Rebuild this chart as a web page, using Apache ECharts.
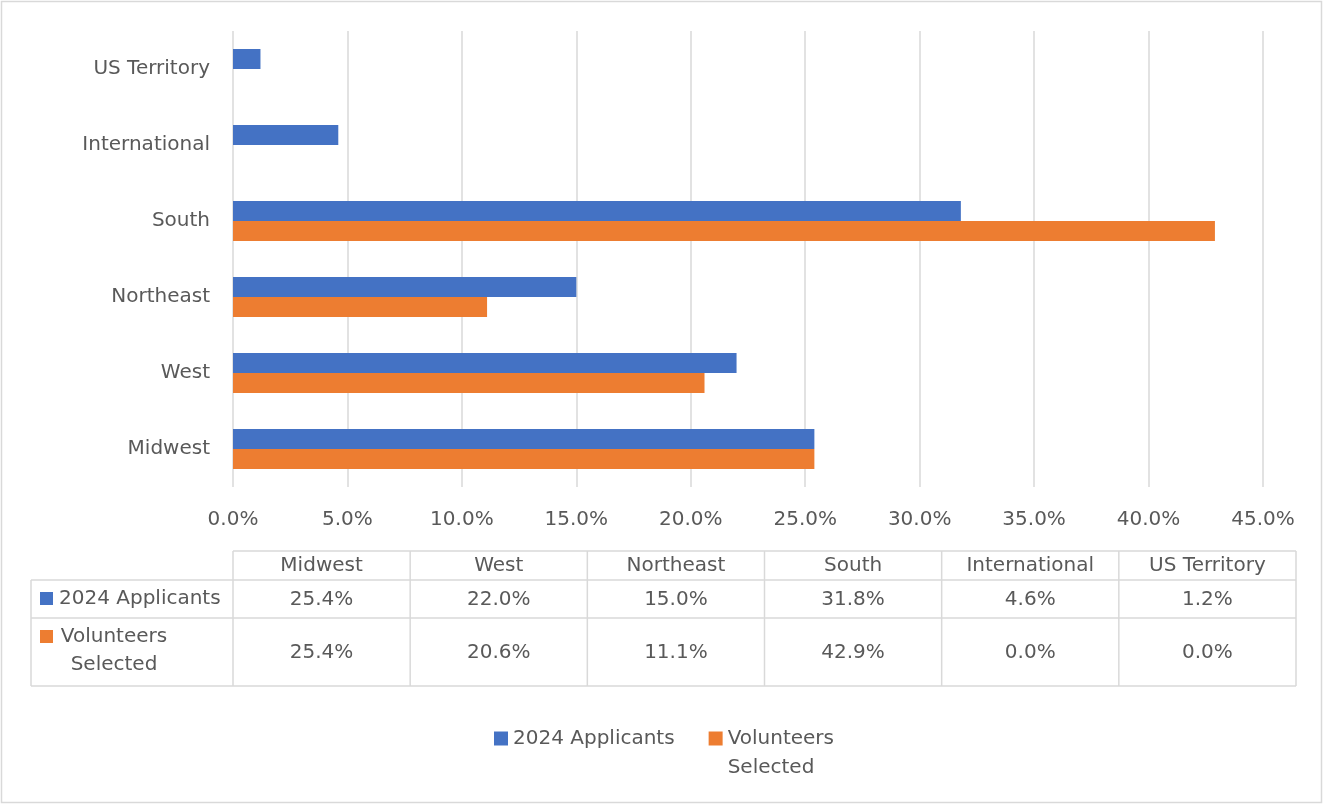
<!DOCTYPE html>
<html>
<head>
<meta charset="utf-8">
<title>Applicants vs Volunteers by Region</title>
<script src="https://cdn.jsdelivr.net/npm/echarts@6/dist/echarts.min.js"></script>
<style>
  html, body { margin: 0; padding: 0; background: #fff; }
  #chart { width: 1324px; height: 805px; }
</style>
</head>
<body>
<div id="chart"></div>
<script>
// data
var regions = ["Midwest", "West", "Northeast", "South", "International", "US Territory"];
var applicants = [25.4, 22.0, 15.0, 31.8, 4.6, 1.2];
var volunteers = [25.4, 20.6, 11.1, 42.9, 0.0, 0.0];
var seriesNames = ["2024 Applicants", "Volunteers Selected"];
var seriesLabels = ["2024 Applicants", "Volunteers\nSelected"];
var colors = ["#4472C4", "#ED7D31"];

var textColor = "#595959";
var lineColor = "#D9D9D9";
var font = "DejaVu Sans";

var chart = echarts.init(document.getElementById("chart"));

// data table under the plot
var tLeft = 31, tCol0 = 233, tRight = 1296;
var rowY = [551, 580, 618, 686];
var colW = (tRight - tCol0) / regions.length;

function fmt(v) {
  return v.toFixed(1) + "%";
}

function buildTable() {
  var els = [];
  var line = function (x1, y1, x2, y2) {
    els.push({
      type: "line",
      shape: { x1: x1, y1: y1, x2: x2, y2: y2 },
      style: { stroke: lineColor, lineWidth: 1.5 }
    });
  };
  var txt = function (x, y, s, align) {
    els.push({
      type: "text",
      x: x,
      y: y,
      style: {
        text: s,
        fill: textColor,
        font: "20px '" + font + "'",
        align: align || "center",
        verticalAlign: "middle",
        lineHeight: 28
      }
    });
  };
  line(tCol0, rowY[0], tRight, rowY[0]);
  for (var r = 1; r < rowY.length; r++) {
    line(tLeft, rowY[r], tRight, rowY[r]);
  }
  line(tLeft, rowY[1], tLeft, rowY[3]);
  for (var c = 0; c <= regions.length; c++) {
    line(tCol0 + c * colW, rowY[0], tCol0 + c * colW, rowY[3]);
  }
  var rows = [applicants, volunteers];
  for (var i = 0; i < regions.length; i++) {
    var cx = tCol0 + (i + 0.5) * colW;
    txt(cx, (rowY[0] + rowY[1]) / 2, regions[i]);
    for (var k = 0; k < rows.length; k++) {
      txt(cx, (rowY[k + 1] + rowY[k + 2]) / 2 + 1, fmt(rows[k][i]));
    }
  }
  // row headers with legend keys
  for (var k = 0; k < rows.length; k++) {
    var keyY = k === 0 ? 592 : 630;
    els.push({
      type: "rect",
      shape: { x: 40, y: keyY, width: 13, height: 13 },
      style: { fill: colors[k] }
    });
  }
  txt(59, 599, seriesLabels[0], "left");
  txt(114, 651, seriesLabels[1]);
  // outer frame
  els.push({
    type: "rect",
    shape: { x: 1.5, y: 1.5, width: 1320, height: 801 },
    style: { fill: "none", stroke: lineColor, lineWidth: 1.5 },
    silent: true
  });
  return els;
}

chart.setOption({
  animation: false,
  textStyle: { fontFamily: font, color: textColor },
  grid: { left: 233, right: 61, top: 31, bottom: 318 },
  legend: {
    left: 494,
    top: 695,
    padding: 0,
    itemWidth: 14,
    itemHeight: 14,
    itemGap: 34,
    icon: "rect",
    selectedMode: false,
    data: seriesNames,
    formatter: function (name) {
      // leading blank line keeps the key level with the first text line
      return name === seriesNames[1] ? "\n" + seriesLabels[1] : name;
    },
    textStyle: { fontSize: 20, color: textColor, lineHeight: 29 }
  },
  xAxis: {
    type: "value",
    min: 0,
    max: 45,
    interval: 5,
    axisLine: { show: false },
    axisTick: { show: false },
    axisLabel: {
      fontSize: 20,
      color: textColor,
      margin: 23,
      formatter: function (v) { return v.toFixed(1) + "%"; }
    },
    splitLine: { lineStyle: { color: lineColor, width: 1.5 } }
  },
  yAxis: {
    type: "category",
    data: regions,
    axisLine: { show: false },
    axisTick: { show: false },
    axisLabel: { fontSize: 20, color: textColor, margin: 23 }
  },
  series: [
    {
      name: seriesNames[0],
      type: "bar",
      data: applicants,
      barWidth: 20,
      barGap: "0%",
      itemStyle: { color: colors[0] }
    },
    {
      name: seriesNames[1],
      type: "bar",
      data: volunteers,
      barWidth: 20,
      barGap: "0%",
      itemStyle: { color: colors[1] }
    }
  ],
  graphic: buildTable()
});
</script>
</body>
</html>
